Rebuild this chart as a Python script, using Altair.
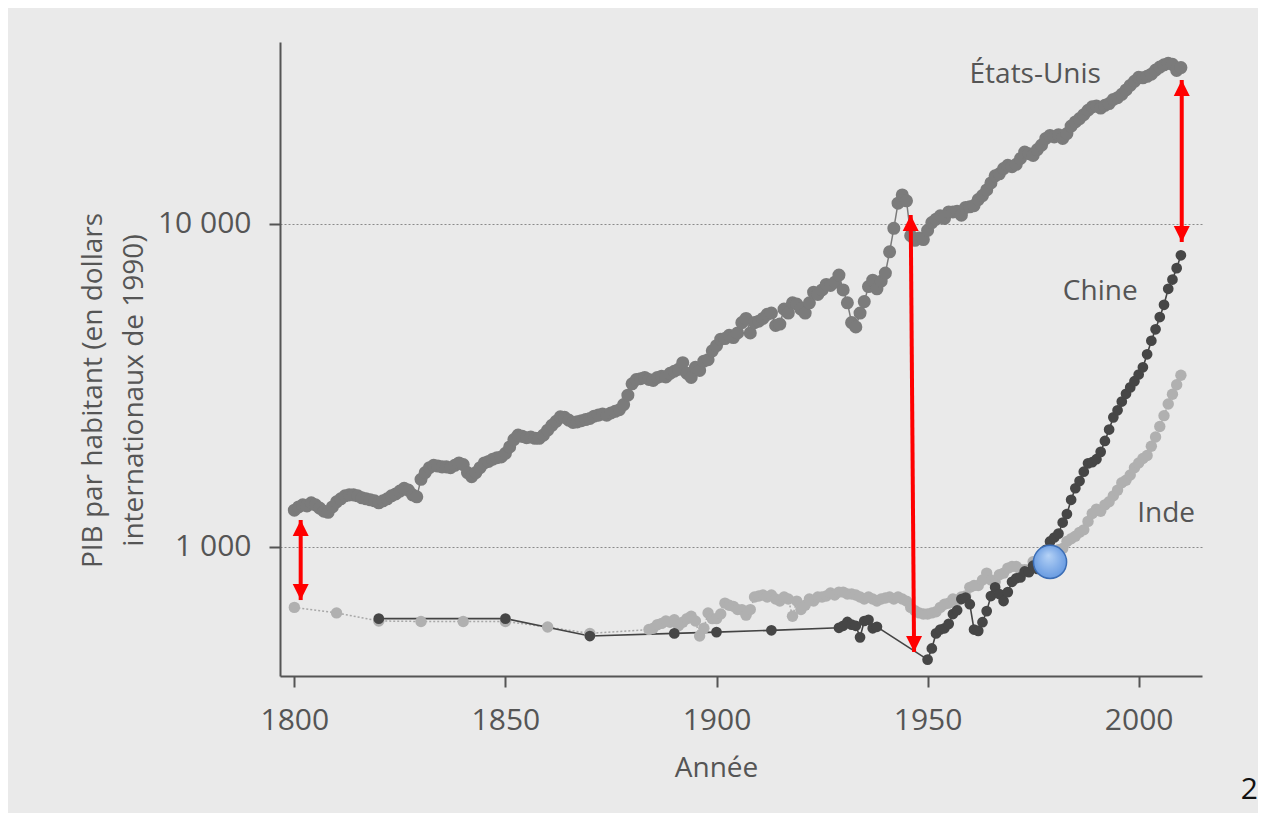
import altair as alt
import pandas as pd

# ---------------- data ----------------
us_years = list(range(1800, 2011))
us_gdp = [
    1300, 1330, 1350, 1340, 1370, 1350, 1320, 1290, 1280, 1330,
    1380, 1410, 1440, 1450, 1450, 1440, 1420, 1410, 1400, 1390,
    1370, 1390, 1410, 1440, 1460, 1490, 1520, 1500, 1450, 1430,
    1620, 1700, 1760, 1790, 1780, 1770, 1770, 1760, 1790, 1820,
    1800, 1700, 1650, 1700, 1760, 1820, 1840, 1870, 1890, 1900,
    1950, 2040, 2150, 2220, 2200, 2180, 2190, 2170, 2170, 2220,
    2300, 2380, 2450, 2530, 2520, 2470, 2430, 2440, 2460, 2480,
    2500, 2540, 2560, 2580, 2560, 2600, 2630, 2660, 2760, 2950,
    3200, 3300, 3320, 3350, 3300, 3280, 3350, 3380, 3360, 3450,
    3500, 3550, 3720, 3450, 3350, 3600, 3520, 3760, 3800, 4050,
    4200, 4400, 4420, 4520, 4450, 4600, 4950, 5100, 4600, 4950,
    5000, 5100, 5250, 5300, 4850, 4900, 5450, 5300, 5700, 5650,
    5450, 5300, 5700, 6150, 6050, 6250, 6500, 6450, 6600, 6950,
    6250, 5700, 4950, 4800, 5300, 5750, 6400, 6700, 6300, 6650,
    7050, 8200, 9700, 11600, 12300, 11800, 9200, 8900, 9050, 8950,
    9550, 10100, 10350, 10600, 10400, 10900, 10900, 10950, 10650, 11250,
    11300, 11400, 11900, 12250, 12750, 13400, 14100, 14300, 14850, 15200,
    15050, 15300, 15950, 16700, 16500, 16300, 17000, 17550, 18400, 18800,
    18600, 18900, 18400, 19050, 20100, 20700, 21200, 21800, 22500, 23050,
    23200, 22850, 23300, 23600, 24300, 24600, 25200, 26000, 26850, 27650,
    28450, 28350, 28650, 29100, 29950, 30600, 31100, 31450, 31200, 29900, 30500,
]

china_years = [1820, 1850, 1870, 1890, 1900, 1913] + list(range(1929, 1939)) + list(range(1950, 2011))
china_gdp = [
    600, 600, 530, 540, 545, 552,
    562, 570, 586, 575, 570, 525, 590, 595, 560, 566,
    448, 485, 540, 555, 560, 578, 620, 637, 690, 697,
    665, 555, 550, 585, 633, 705, 750, 715, 680, 725,
    780, 800, 805, 840, 836, 875, 855, 895, 980, 1040,
    1070, 1100, 1190, 1265, 1400, 1520, 1600, 1710, 1815, 1830,
    1870, 1970, 2130, 2310, 2520, 2650, 2820, 2980, 3120, 3260,
    3420, 3600, 3950, 4350, 4720, 5150, 5620, 6300, 6730, 7300, 8000,
]

india_years = [1800, 1810, 1820, 1830, 1840, 1850, 1860, 1870] + list(range(1884, 2011))
india_gdp = [
    650, 625, 590, 588, 588, 588, 565, 540,
    555, 560, 575, 580, 590, 585,
    595, 570, 585, 600, 610, 590, 530, 560, 625, 600,
    600, 620, 670, 660, 655, 640, 640, 615, 640, 700,
    705, 710, 700, 710, 690, 680, 700, 690, 610, 680,
    640, 660, 690, 680, 700, 700, 705, 720, 710, 725,
    725, 715, 715, 710, 700, 690, 700, 690, 680, 690,
    695, 700, 690, 700, 690, 680, 650, 635, 625, 620,
    620, 625, 630, 650, 665, 670, 690, 680, 700, 705,
    750, 760, 760, 790, 830, 790, 780, 820, 830, 860,
    870, 870, 850, 850, 850, 900, 890, 930, 960, 900,
    940, 980, 990, 1040, 1060, 1080, 1110, 1130, 1200, 1270,
    1310, 1290, 1350, 1380, 1440, 1500, 1580, 1610, 1670, 1760,
    1820, 1880, 1920, 2050, 2190, 2360, 2550, 2770, 2970, 3180, 3400,
]

# double-headed red arrows
arrow_year_top = [1801.5, 1946.0, 2010.2]
arrow_val_top = [1212, 10660, 27900]
arrow_year_bot = [1801.5, 1946.8, 2010.2]
arrow_val_bot = [685, 473, 8790]

# crossing marker
cross_year = [1979.0]
cross_val = [899]

# series labels
label_text = ["États-Unis", "Chine", "Inde"]
label_year = [1975.5, 1990.9, 2006.5]
label_val = [27330, 5818, 1195]

x_ticks = [1800, 1850, 1900, 1950, 2000]
y_ticks = [1000, 10000]

# ---------------- frames ----------------
df = pd.concat([
    pd.DataFrame({"year": us_years, "value": us_gdp, "series": "US"}),
    pd.DataFrame({"year": india_years, "value": india_gdp, "series": "India"}),
    pd.DataFrame({"year": china_years, "value": china_gdp, "series": "China"}),
])
arrows = pd.DataFrame({"year": arrow_year_top, "value": arrow_val_top,
                       "year2": arrow_year_bot, "value2": arrow_val_bot})
heads_up = pd.DataFrame({"year": arrow_year_top, "value": arrow_val_top})
heads_down = pd.DataFrame({"year": arrow_year_bot, "value": arrow_val_bot})
cross = pd.DataFrame({"year": cross_year, "value": cross_val})
labels = pd.DataFrame({"year": label_year, "value": label_val, "text": label_text})

FONT = "Open Sans"
TXT = "#555555"

xs = alt.Scale(domain=[1796.6, 2015.0], nice=False, zero=False)
ys = alt.Scale(type="log", domain=[398.6, 36600], nice=False)
x_axis = alt.Axis(values=x_ticks, format="d", title="Année", grid=False,
                  titleX=436, titleY=92, titleBaseline="middle", titleAlign="center",
                  labelPadding=18)
y_axis = alt.Axis(values=y_ticks, title=["PIB par habitant (en dollars", "internationaux de 1990)"],
                  labelExpr="replace(format(datum.value, ','), ',', ' ')",
                  grid=True, gridColor="#8a8a8a", gridDash=[2, 2], gridWidth=1,
                  titleX=-187, titleY=348, titleAlign="center", titleBaseline="middle",
                  titleAngle=270, titleLineHeight=41, labelPadding=18)

X = alt.X("year:Q", scale=xs, axis=x_axis)
Y = alt.Y("value:Q", scale=ys, axis=y_axis)

base = alt.Chart(df).encode(x=X, y=Y)

india_line = base.transform_filter("datum.series == 'India'").mark_line(
    color="#a8a8a8", strokeWidth=1.5, strokeDash=[2, 2])
us_line = base.transform_filter("datum.series == 'US'").mark_line(
    color="#7a7a7a", strokeWidth=1.5)
china_line = base.transform_filter("datum.series == 'China'").mark_line(
    color="#444444", strokeWidth=1.6)

india_pts = base.transform_filter("datum.series == 'India'").mark_point(
    filled=True, color="#b0b0b0", size=130, opacity=1)
us_pts = base.transform_filter("datum.series == 'US'").mark_point(
    filled=True, color="#7b7b7b", size=170, opacity=1)
china_pts = base.transform_filter("datum.series == 'China'").mark_point(
    filled=True, color="#464646", size=115, opacity=1)

arrow_rules = alt.Chart(arrows).mark_rule(color="#ff0000", strokeWidth=4).encode(
    x=X, y=Y, x2="year2:Q", y2="value2:Q")
up_heads = alt.Chart(heads_up).mark_point(
    shape="M0,0L-1,2L1,2Z", filled=True, color="#ff0000", size=256, opacity=1).encode(x=X, y=Y)
down_heads = alt.Chart(heads_down).mark_point(
    shape="M0,0L-1,-2L1,-2Z", filled=True, color="#ff0000", size=256, opacity=1).encode(x=X, y=Y)

blue = alt.Chart(cross).mark_point(
    filled=True, size=1100, opacity=1, strokeWidth=1.5, stroke="#3b6db5",
    fill=alt.RadialGradient(gradient="radial", x1=0.45, y1=0.3, r1=0.0,
                            x2=0.5, y2=0.5, r2=0.6,
                            stops=[alt.GradientStop(color="#b5d2f6", offset=0),
                                   alt.GradientStop(color="#5d93de", offset=1)])
).encode(x=X, y=Y)

text_labels = alt.Chart(labels).mark_text(
    font=FONT, fontSize=28, color=TXT, align="center", baseline="alphabetic").encode(
    x=X, y=Y, text="text:N")

page_num = alt.Chart(pd.DataFrame({"t": ["2"]})).mark_text(
    font=FONT, fontSize=30, color="#111111", align="right", baseline="middle").encode(
    x=alt.value(978), y=alt.value(748), text="t:N")

chart = alt.layer(
    india_line, us_line, china_line,
    india_pts, us_pts, china_pts,
    arrow_rules, up_heads, down_heads,
    blue, text_labels, page_num,
).properties(
    width=922, height=634,
    padding={"left": 272, "top": 34, "right": 56, "bottom": 137},
    autosize=alt.AutoSizeParams(type="none"),
    background="#eaeaea",
).configure_view(stroke=None).configure_axis(
    domainColor="#555555", domainWidth=2, tickColor="#555555", tickWidth=2, tickSize=11,
    labelFont=FONT, labelFontSize=30, labelColor=TXT,
    titleFont=FONT, titleFontSize=28, titleColor=TXT, titleFontWeight="normal",
)

chart.save("out.html", embed_options={"renderer": "svg", "actions": False})
